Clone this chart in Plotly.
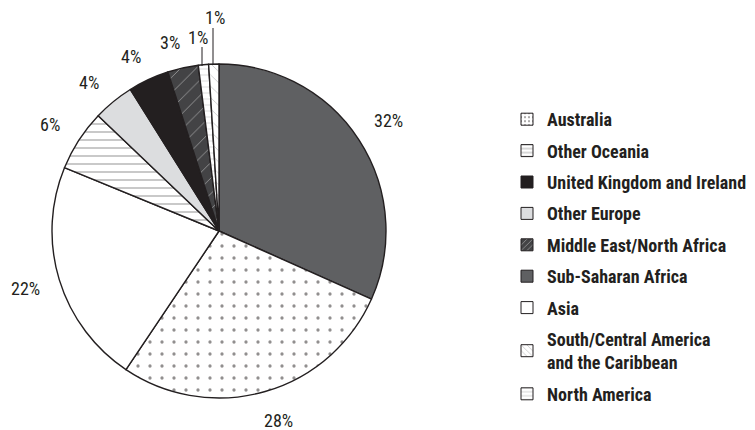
import plotly.graph_objects as go

# Regions, in slice order (clockwise from 12 o'clock)
regions = [
    "Sub-Saharan Africa",
    "Australia",
    "Asia",
    "Other Oceania",
    "Other Europe",
    "United Kingdom and Ireland",
    "Middle East/North Africa",
    "North America",
    "South/Central America and the Caribbean",
]
shares = [32, 28, 22, 6, 4, 4, 3, 1, 1]

# Legend order
legend_order = [
    "Australia",
    "Other Oceania",
    "United Kingdom and Ireland",
    "Other Europe",
    "Middle East/North Africa",
    "Sub-Saharan Africa",
    "Asia",
    "South/Central America and the Caribbean",
    "North America",
]
legend_text = {
    "South/Central America and the Caribbean": "South/Central America<br>and the Caribbean",
}

# Fill styles: (background, pattern shape, pattern colour, pattern size, solidity)
styles = {
    "Sub-Saharan Africa": ("#5f6062", "", "#5f6062", 8, 0.2),
    "Australia": ("#ffffff", ".", "#231f20", 12, 0.06),
    "Asia": ("#ffffff", "", "#ffffff", 8, 0.2),
    "Other Oceania": ("#ffffff", "-", "#3a3a3a", 8, 0.14),
    "Other Europe": ("#dcdddf", "", "#dcdddf", 8, 0.2),
    "United Kingdom and Ireland": ("#231f20", "", "#231f20", 8, 0.2),
    "Middle East/North Africa": ("#434345", "/", "#f0f0f0", 11, 0.08),
    "North America": ("#ffffff", "-", "#8a8a8a", 6, 0.1),
    "South/Central America and the Caribbean": ("#ffffff", "\\", "#8a8a8a", 8, 0.1),
}

W, H = 755, 430
INK = "#231f20"
LABEL_FONT = "Liberation Sans Narrow, Arial Narrow, Roboto Condensed, Arial, sans-serif"


def px(x, y):
    return x / W, 1 - y / H


# Pie geometry in pixels: centre and radius
cx, cy, r = 219, 231, 167

fig = go.Figure()

fig.add_trace(go.Pie(
    labels=regions,
    values=shares,
    sort=False,
    direction="clockwise",
    rotation=0,
    textinfo="none",
    hoverinfo="label+percent",
    showlegend=False,
    domain=dict(x=[(cx - r) / W, (cx + r) / W], y=[1 - (cy + r) / H, 1 - (cy - r) / H]),
    marker=dict(
        colors=[styles[n][0] for n in regions],
        line=dict(color=INK, width=1.4),
        pattern=dict(
            shape=[styles[n][1] for n in regions],
            fgcolor=[styles[n][2] for n in regions],
            bgcolor=[styles[n][0] for n in regions],
            size=[styles[n][3] for n in regions],
            solidity=[styles[n][4] for n in regions],
            fillmode="overlay",
        ),
    ),
))

# Legend entries (empty bars carry the patterned swatches), one group each
for i, name in enumerate(legend_order):
    bg, shp, fg, sz, sol = styles[name]
    fig.add_trace(go.Bar(
        x=[None], y=[None],
        name=legend_text.get(name, name),
        legendgroup=f"g{i}",
        marker=dict(
            color=bg,
            line=dict(color=INK, width=1),
            pattern=dict(shape=shp, fgcolor=fg, bgcolor=bg, size=5, solidity=0.2, fillmode="overlay"),
        ),
        showlegend=True,
        hoverinfo="skip",
    ))

# Percentage labels placed around the pie (pixel positions)
label_pos = {
    "Sub-Saharan Africa": (388, 120),
    "Australia": (278, 420),
    "Asia": (25, 288),
    "Other Oceania": (50, 124),
    "Other Europe": (89, 82),
    "United Kingdom and Ireland": (131, 56),
    "Middle East/North Africa": (170, 43),
    "North America": (198, 38),
    "South/Central America and the Caribbean": (215, 18),
}
for name, v in zip(regions, shares):
    x, y = px(*label_pos[name])
    fig.add_annotation(
        x=x, y=y, xref="paper", yref="paper",
        text=f"{v}%", showarrow=False,
        xanchor="center", yanchor="middle",
        font=dict(family=LABEL_FONT, size=18, color=INK),
    )

# Leader lines for the two smallest slices
leaders = [((202, 47), (202, 66)), ((213, 28), (213, 65))]
for (x0, y0), (x1, y1) in leaders:
    a0, b0 = px(x0, y0)
    a1, b1 = px(x1, y1)
    fig.add_shape(type="line", xref="paper", yref="paper",
                  x0=a0, y0=b0, x1=a1, y1=b1,
                  line=dict(color=INK, width=1))

fig.update_layout(
    width=W, height=H,
    margin=dict(l=0, r=0, t=0, b=0, autoexpand=False),
    paper_bgcolor="white",
    plot_bgcolor="white",
    xaxis=dict(visible=False),
    yaxis=dict(visible=False),
    legend=dict(
        x=507 / W, y=1 - 101 / H,
        xanchor="left", yanchor="top",
        font=dict(family=LABEL_FONT, size=18, color=INK, weight="bold"),
        tracegroupgap=5,
        bgcolor="rgba(0,0,0,0)",
    ),
)

fig.write_html("out.html")
